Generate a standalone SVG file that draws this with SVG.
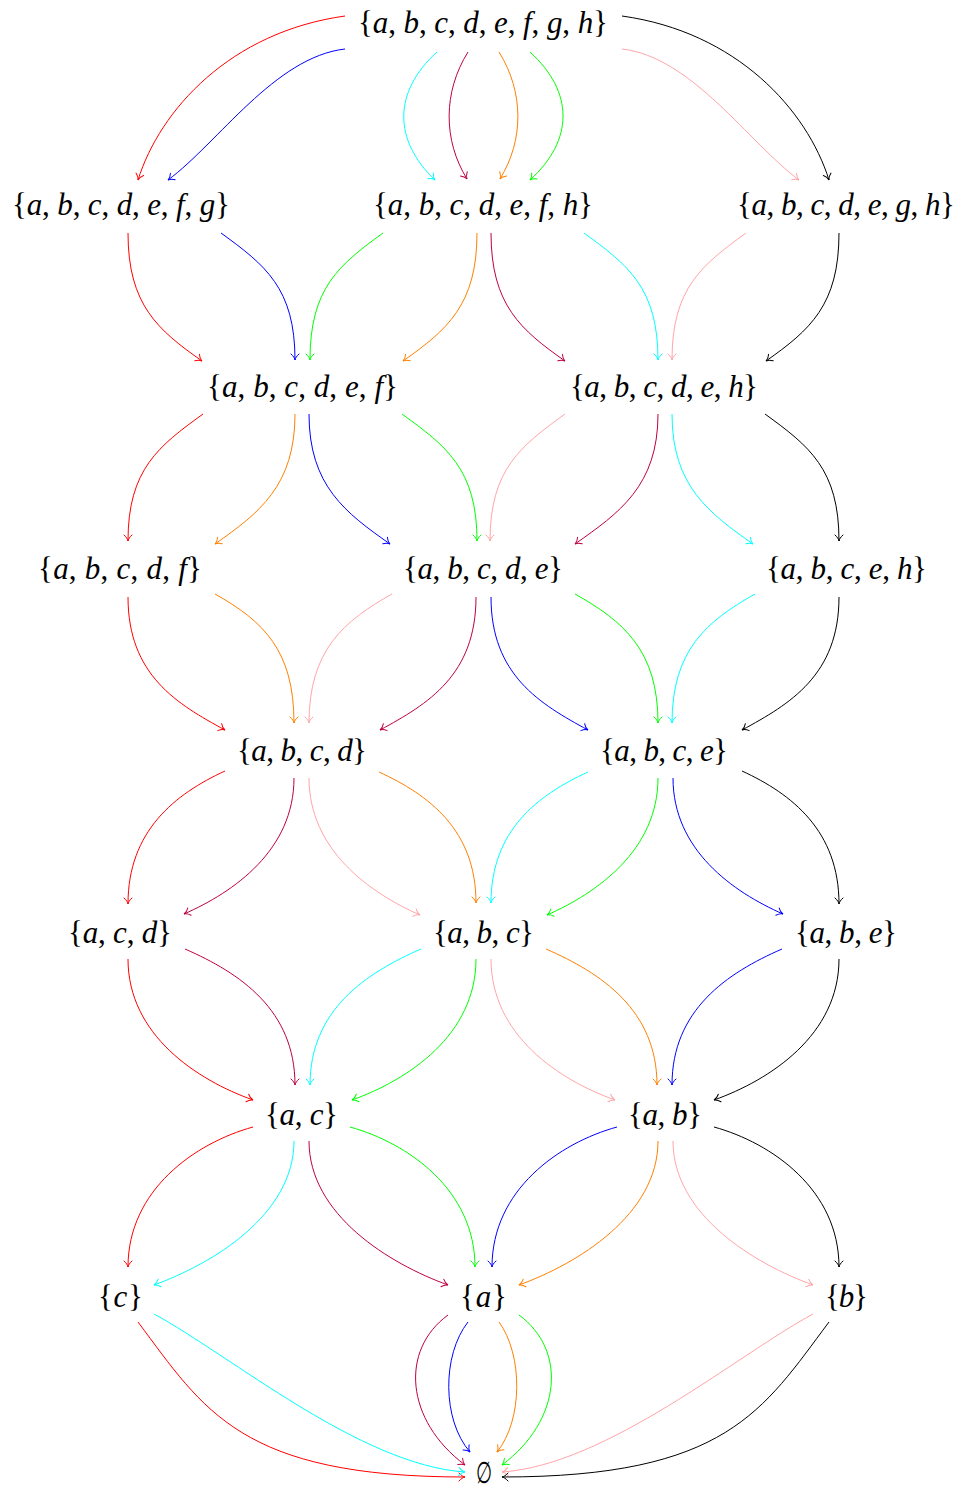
<svg xmlns="http://www.w3.org/2000/svg" width="961" height="1491" viewBox="0 0 961 1491">
<style>
text{font-family:"Liberation Serif","Times New Roman",serif;font-size:31px;fill:#000}
.i{font-style:italic}
.e{fill:none;stroke-width:1}
.mh{fill:none;stroke-width:1;stroke-linecap:round}
.r{stroke:#ff0000;marker-end:url(#mr)}
.b{stroke:#0000ff;marker-end:url(#mb)}
.c{stroke:#00ffff;marker-end:url(#mc)}
.p{stroke:#bf0040;marker-end:url(#mp)}
.o{stroke:#ff8000;marker-end:url(#mo)}
.g{stroke:#00ff00;marker-end:url(#mg)}
.k{stroke:#ffa5a8;marker-end:url(#mk)}
.n{stroke:#000000;marker-end:url(#mn)}
</style>
<defs>
<marker id="mr" markerUnits="userSpaceOnUse" viewBox="-8 -6 10 12" markerWidth="10" markerHeight="12" refX="0" refY="0" orient="auto"><path class="mh" stroke="#ff0000" d="M-6,-4 C-4,-1.5 -1.5,-0.3 0,0 C-1.5,0.3 -4,1.5 -6,4"/></marker>
<marker id="mb" markerUnits="userSpaceOnUse" viewBox="-8 -6 10 12" markerWidth="10" markerHeight="12" refX="0" refY="0" orient="auto"><path class="mh" stroke="#0000ff" d="M-6,-4 C-4,-1.5 -1.5,-0.3 0,0 C-1.5,0.3 -4,1.5 -6,4"/></marker>
<marker id="mc" markerUnits="userSpaceOnUse" viewBox="-8 -6 10 12" markerWidth="10" markerHeight="12" refX="0" refY="0" orient="auto"><path class="mh" stroke="#00ffff" d="M-6,-4 C-4,-1.5 -1.5,-0.3 0,0 C-1.5,0.3 -4,1.5 -6,4"/></marker>
<marker id="mp" markerUnits="userSpaceOnUse" viewBox="-8 -6 10 12" markerWidth="10" markerHeight="12" refX="0" refY="0" orient="auto"><path class="mh" stroke="#bf0040" d="M-6,-4 C-4,-1.5 -1.5,-0.3 0,0 C-1.5,0.3 -4,1.5 -6,4"/></marker>
<marker id="mo" markerUnits="userSpaceOnUse" viewBox="-8 -6 10 12" markerWidth="10" markerHeight="12" refX="0" refY="0" orient="auto"><path class="mh" stroke="#ff8000" d="M-6,-4 C-4,-1.5 -1.5,-0.3 0,0 C-1.5,0.3 -4,1.5 -6,4"/></marker>
<marker id="mg" markerUnits="userSpaceOnUse" viewBox="-8 -6 10 12" markerWidth="10" markerHeight="12" refX="0" refY="0" orient="auto"><path class="mh" stroke="#00ff00" d="M-6,-4 C-4,-1.5 -1.5,-0.3 0,0 C-1.5,0.3 -4,1.5 -6,4"/></marker>
<marker id="mk" markerUnits="userSpaceOnUse" viewBox="-8 -6 10 12" markerWidth="10" markerHeight="12" refX="0" refY="0" orient="auto"><path class="mh" stroke="#ffa5a8" d="M-6,-4 C-4,-1.5 -1.5,-0.3 0,0 C-1.5,0.3 -4,1.5 -6,4"/></marker>
<marker id="mn" markerUnits="userSpaceOnUse" viewBox="-8 -6 10 12" markerWidth="10" markerHeight="12" refX="0" refY="0" orient="auto"><path class="mh" stroke="#000000" d="M-6,-4 C-4,-1.5 -1.5,-0.3 0,0 C-1.5,0.3 -4,1.5 -6,4"/></marker>
</defs>
<rect width="961" height="1491" fill="#ffffff"/>

<g id="connectors">
<path class="e r" d="M345,16 C230,32 160,110 138,180"/>
<path class="e b" d="M345,49 C275,57 218,143 168,180"/>
<path class="e c" d="M437,52 C393,92 393,140 435,180"/>
<path class="e p" d="M468,52 C443,92 443,140 467,179"/>
<path class="e o" d="M499,52 C524,92 524,140 500,179"/>
<path class="e g" d="M530,52 C574,92 574,140 530,180"/>
<path class="e k" d="M622,49 C692,57 749,143 799,180"/>
<path class="e n" d="M622,16 C737,32 807,110 829,180"/>

<path class="e r" d="M128,233 C128,305 158,330 202,361"/>
<path class="e b" d="M221,233 C265,265 295,288 295,360"/>
<path class="e g" d="M383,233 C339,265 310,288 310,360"/>
<path class="e o" d="M477,233 C477,305 447,330 403,361"/>
<path class="e p" d="M491,233 C491,305 521,330 565,361"/>
<path class="e c" d="M584,233 C628,265 658,288 658,360"/>
<path class="e k" d="M746,233 C702,265 672,288 672,360"/>
<path class="e n" d="M839,233 C839,305 810,330 766,361"/>

<path class="e r" d="M203,414 C159,446 128,469 128,541"/>
<path class="e o" d="M295,414 C295,486 259,513 215,544"/>
<path class="e b" d="M309,414 C309,486 346,513 390,544"/>
<path class="e g" d="M402,414 C446,446 477,469 477,541"/>
<path class="e k" d="M565,414 C521,446 490,469 490,541"/>
<path class="e p" d="M658,414 C658,486 619,513 575,544"/>
<path class="e c" d="M672,414 C672,486 709,513 753,544"/>
<path class="e n" d="M765,414 C809,446 839,469 839,541"/>

<path class="e r" d="M128,597 C128,675 177,704 225,730"/>
<path class="e o" d="M215,594 C263,621 294,650 294,723"/>
<path class="e k" d="M392,594 C344,621 309,650 309,723"/>
<path class="e p" d="M476,597 C476,675 428,704 380,730"/>
<path class="e b" d="M491,597 C491,675 540,704 588,730"/>
<path class="e g" d="M575,594 C623,621 658,650 658,723"/>
<path class="e c" d="M755,594 C707,621 672,650 672,723"/>
<path class="e n" d="M839,597 C839,675 790,704 742,730"/>

<path class="e r" d="M225,771 C175,794 128,831 128,904"/>
<path class="e p" d="M294,778 C294,850 234,892 184,914"/>
<path class="e k" d="M309,778 C309,850 370,893 420,915"/>
<path class="e o" d="M379,772 C429,795 476,830 476,903"/>
<path class="e c" d="M588,772 C538,795 491,830 491,903"/>
<path class="e g" d="M658,778 C658,850 597,893 547,915"/>
<path class="e b" d="M673,778 C673,850 733,892 783,914"/>
<path class="e n" d="M742,771 C792,794 839,831 839,904"/>

<path class="e r" d="M128,959 C128,1035 197,1080 253,1100"/>
<path class="e p" d="M185,949 C240,973 295,1010 295,1085"/>
<path class="e c" d="M421,949 C366,973 310,1010 310,1085"/>
<path class="e g" d="M476,959 C476,1035 408,1080 352,1100"/>
<path class="e k" d="M491,959 C491,1035 559,1080 615,1100"/>
<path class="e o" d="M546,949 C601,973 657,1010 657,1085"/>
<path class="e b" d="M782,949 C727,973 672,1010 672,1085"/>
<path class="e n" d="M839,959 C839,1035 770,1080 714,1100"/>

<path class="e r" d="M253,1127 C195,1143 128,1190 128,1267"/>
<path class="e c" d="M294,1141 C294,1215 212,1264 154,1285"/>
<path class="e p" d="M309,1141 C309,1215 390,1264 448,1285"/>
<path class="e g" d="M350,1127 C408,1143 475,1190 475,1267"/>
<path class="e b" d="M617,1127 C559,1143 492,1190 492,1267"/>
<path class="e o" d="M658,1141 C658,1215 577,1264 519,1285"/>
<path class="e k" d="M673,1141 C673,1215 755,1264 813,1285"/>
<path class="e n" d="M714,1127 C772,1143 839,1190 839,1267"/>

<path class="e r" d="M138,1322 C204,1410 240,1477 465,1477"/>
<path class="e c" d="M154,1314 C230,1355 360,1465 465,1472"/>
<path class="e p" d="M448,1315 C400,1350 405,1420 465,1465"/>
<path class="e b" d="M468,1322 C442,1355 442,1420 470,1452"/>
<path class="e o" d="M499,1322 C523,1355 523,1420 497,1452"/>
<path class="e g" d="M519,1315 C567,1350 562,1420 502,1465"/>
<path class="e k" d="M813,1314 C737,1355 607,1465 502,1472"/>
<path class="e n" d="M829,1322 C763,1410 727,1477 502,1477"/>
</g>

<g id="n-abcdefgh"><text x="358" y="33" textLength="250">{<tspan class="i">a</tspan>, <tspan class="i">b</tspan>, <tspan class="i">c</tspan>, <tspan class="i">d</tspan>, <tspan class="i">e</tspan>, <tspan class="i">f</tspan>, <tspan class="i">g</tspan>, <tspan class="i">h</tspan>}</text></g>

<g id="n-abcdefg"><text x="12" y="215" textLength="218">{<tspan class="i">a</tspan>, <tspan class="i">b</tspan>, <tspan class="i">c</tspan>, <tspan class="i">d</tspan>, <tspan class="i">e</tspan>, <tspan class="i">f</tspan>, <tspan class="i">g</tspan>}</text></g>
<g id="n-abcdefh"><text x="373" y="215" textLength="220">{<tspan class="i">a</tspan>, <tspan class="i">b</tspan>, <tspan class="i">c</tspan>, <tspan class="i">d</tspan>, <tspan class="i">e</tspan>, <tspan class="i">f</tspan>, <tspan class="i">h</tspan>}</text></g>
<g id="n-abcdegh"><text x="737" y="215" textLength="218">{<tspan class="i">a</tspan>, <tspan class="i">b</tspan>, <tspan class="i">c</tspan>, <tspan class="i">d</tspan>, <tspan class="i">e</tspan>, <tspan class="i">g</tspan>, <tspan class="i">h</tspan>}</text></g>

<g id="n-abcdef"><text x="207" y="397" textLength="191">{<tspan class="i">a</tspan>, <tspan class="i">b</tspan>, <tspan class="i">c</tspan>, <tspan class="i">d</tspan>, <tspan class="i">e</tspan>, <tspan class="i">f</tspan>}</text></g>
<g id="n-abcdeh"><text x="570" y="397" textLength="188">{<tspan class="i">a</tspan>, <tspan class="i">b</tspan>, <tspan class="i">c</tspan>, <tspan class="i">d</tspan>, <tspan class="i">e</tspan>, <tspan class="i">h</tspan>}</text></g>

<g id="n-abcdf"><text x="38" y="579" textLength="164">{<tspan class="i">a</tspan>, <tspan class="i">b</tspan>, <tspan class="i">c</tspan>, <tspan class="i">d</tspan>, <tspan class="i">f</tspan>}</text></g>
<g id="n-abcde"><text x="403" y="579" textLength="160">{<tspan class="i">a</tspan>, <tspan class="i">b</tspan>, <tspan class="i">c</tspan>, <tspan class="i">d</tspan>, <tspan class="i">e</tspan>}</text></g>
<g id="n-abceh"><text x="766" y="579" textLength="161">{<tspan class="i">a</tspan>, <tspan class="i">b</tspan>, <tspan class="i">c</tspan>, <tspan class="i">e</tspan>, <tspan class="i">h</tspan>}</text></g>

<g id="n-abcd"><text x="237" y="761" textLength="130">{<tspan class="i">a</tspan>, <tspan class="i">b</tspan>, <tspan class="i">c</tspan>, <tspan class="i">d</tspan>}</text></g>
<g id="n-abce"><text x="600" y="761" textLength="128">{<tspan class="i">a</tspan>, <tspan class="i">b</tspan>, <tspan class="i">c</tspan>, <tspan class="i">e</tspan>}</text></g>

<g id="n-acd"><text x="68" y="943" textLength="104">{<tspan class="i">a</tspan>, <tspan class="i">c</tspan>, <tspan class="i">d</tspan>}</text></g>
<g id="n-abc"><text x="433" y="943" textLength="101">{<tspan class="i">a</tspan>, <tspan class="i">b</tspan>, <tspan class="i">c</tspan>}</text></g>
<g id="n-abe"><text x="795" y="943" textLength="102">{<tspan class="i">a</tspan>, <tspan class="i">b</tspan>, <tspan class="i">e</tspan>}</text></g>

<g id="n-ac"><text x="265" y="1124.5" textLength="73">{<tspan class="i">a</tspan>, <tspan class="i">c</tspan>}</text></g>
<g id="n-ab"><text x="628" y="1124.5" textLength="74">{<tspan class="i">a</tspan>, <tspan class="i">b</tspan>}</text></g>

<g id="n-c"><text x="98" y="1306.5" textLength="45">{<tspan class="i">c</tspan>}</text></g>
<g id="n-a"><text x="460" y="1306.5" textLength="47">{<tspan class="i">a</tspan>}</text></g>
<g id="n-b"><text x="825" y="1306.5" textLength="43">{<tspan class="i">b</tspan>}</text></g>

<g id="n-empty"><text x="476" y="1483" textLength="16" lengthAdjust="spacingAndGlyphs" style="font-family:'DejaVu Serif',serif;font-size:30px">∅</text></g>
</svg>
